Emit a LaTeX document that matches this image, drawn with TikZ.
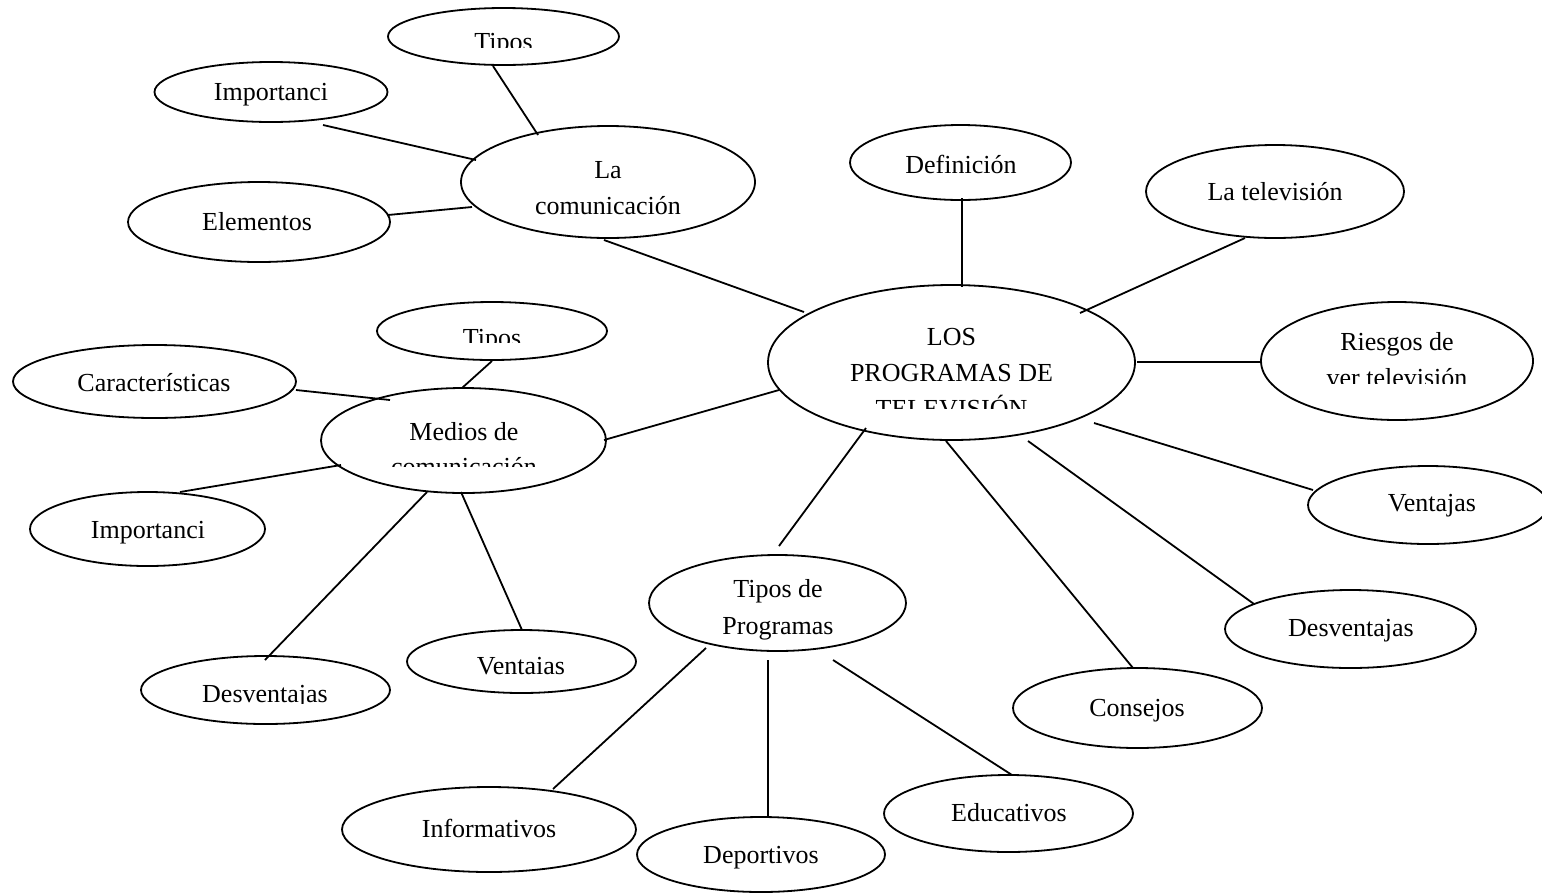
\documentclass[tikz,border=0pt]{standalone}
\usepackage{fontspec}
\setmainfont{Liberation Serif}
\usetikzlibrary{shapes.geometric,calc}
\tikzset{
  bub/.style={draw=black, ellipse, line width=1.8pt, inner sep=0pt},
  lbl/.style={font=\fontsize{26}{36}\selectfont, inner sep=0pt, anchor=base},
  conn/.style={draw=black, line width=1.8pt}
}
\newcommand{\bubble}[5]{\node[bub, minimum width=#4pt, minimum height=#5pt] (#1) at (#2,#3) {};}
\begin{document}
\begin{tikzpicture}[x=1pt,y=-1pt]
\useasboundingbox (0,0) rectangle (1542,895);
% ellipses
\bubble{tipA}{503.5}{36.5}{231}{57}
\bubble{lacom}{608}{182}{294}{112}
\bubble{impA}{271}{92}{233}{60}
\bubble{elem}{259}{222}{262}{80}
\bubble{defi}{960.5}{162.5}{221}{75}
\bubble{latv}{1275}{191.5}{258}{93}
\bubble{main}{951.5}{362.5}{367}{155}
\bubble{ries}{1397}{361}{272}{118}
\bubble{ventR}{1428}{505}{240}{78}
\bubble{desvR}{1350.5}{629}{251}{78}
\bubble{cons}{1137.5}{708}{249}{80}
\bubble{tipP}{777.5}{603}{257}{96}
\bubble{info}{489}{829.5}{294}{85}
\bubble{depo}{761}{854.5}{248}{75}
\bubble{educ}{1008.5}{813.5}{249}{77}
\bubble{medios}{463.5}{440.5}{285}{105}
\bubble{tipB}{492}{331}{230}{58}
\bubble{cara}{154.5}{381.5}{283}{73}
\bubble{impB}{147.5}{529}{235}{74}
\bubble{desvL}{265.5}{690}{249}{68}
\bubble{ventL}{521.5}{661.5}{229}{63}
% labels (some clipped at the bottom as in the reference)
\begin{scope}\clip (380,0) rectangle (630,47);
\node[lbl] (tipA-t) at (503.5,50) {Tipos};\end{scope}
\node[lbl] (impA-t) at (271,100) {Importanci};
\node[lbl] (lacom-t1) at (608,178) {La};
\node[lbl] (lacom-t2) at (608,214) {comunicación};
\node[lbl] (elem-t) at (257,230) {Elementos};
\node[lbl] (defi-t) at (961,173) {Definición};
\node[lbl] (latv-t) at (1275,200) {La televisión};
\node[lbl] (main-t1) at (951.5,345) {LOS};
\node[lbl] (main-t2) at (951.5,381) {PROGRAMAS DE};
\begin{scope}\clip (760,390) rectangle (1140,408);
\node[lbl] (main-t3) at (951.5,417) {TELEVISIÓN};\end{scope}
\node[lbl] (ries-t1) at (1397,350) {Riesgos de};
\begin{scope}\clip (1250,360) rectangle (1542,383);
\node[lbl] (ries-t2) at (1397,386) {ver televisión};\end{scope}
\node[lbl] (ventR-t) at (1432,511) {Ventajas};
\node[lbl] (desvR-t) at (1351,636) {Desventajas};
\node[lbl] (cons-t) at (1137,716) {Consejos};
\node[lbl] (tipP-t1) at (778,597) {Tipos de};
\begin{scope}\clip (640,600) rectangle (920,641);
\node[lbl] (tipP-t2) at (778,634) {Programas};\end{scope}
\node[lbl] (info-t) at (489,837) {Informativos};
\node[lbl] (depo-t) at (761,863) {Deportivos};
\node[lbl] (educ-t) at (1009,821) {Educativos};
\node[lbl] (medios-t1) at (464,440) {Medios de};
\begin{scope}\clip (320,445) rectangle (610,466);
\node[lbl] (medios-t2) at (464,475) {comunicación};\end{scope}
\begin{scope}\clip (370,300) rectangle (620,342);
\node[lbl] (tipB-t) at (492,346) {Tipos};\end{scope}
\node[lbl] (cara-t) at (154,391) {Características};
\node[lbl] (impB-t) at (148,538) {Importanci};
\begin{scope}\clip (130,650) rectangle (400,703);
\node[lbl] (desvL-t) at (265,702) {Desventajas};\end{scope}
\begin{scope}\clip (400,630) rectangle (640,675);
\node[lbl] (ventL-t) at (521,674) {Ventaias};\end{scope}
% connectors
\draw[conn] ($(tipA)+(-10.5,29.5)$) -- ($(lacom)+(-70,-47)$);
\draw[conn] ($(impA)+(52,33)$) -- ($(lacom)+(-132,-22)$);
\draw[conn] ($(elem)+(129,-7)$) -- ($(lacom)+(-136,25)$);
\draw[conn] ($(lacom)+(-4,58)$) -- ($(main)+(-147.5,-50.5)$);
\draw[conn] ($(defi)+(1.5,35.5)$) -- ($(main)+(10.5,-75.5)$);
\draw[conn] ($(latv)+(-30,46.5)$) -- ($(main)+(128.5,-49.5)$);
\draw[conn] ($(main)+(185.5,-0.5)$) -- ($(ries)+(-136,1)$);
\draw[conn] ($(main)+(142.5,60.5)$) -- ($(ventR)+(-115,-15)$);
\draw[conn] ($(main)+(76.5,78.5)$) -- ($(desvR)+(-96.5,-25)$);
\draw[conn] ($(main)+(-5.5,78.5)$) -- ($(cons)+(-4.5,-40)$);
\draw[conn] ($(main)+(-85.5,65.5)$) -- ($(tipP)+(1.5,-57)$);
\draw[conn] ($(main)+(-172.5,27.5)$) -- ($(medios)+(140.5,-0.5)$);
\draw[conn] ($(tipP)+(-71.5,45)$) -- ($(info)+(64,-40.5)$);
\draw[conn] ($(tipP)+(-9.5,57)$) -- ($(depo)+(7,-37.5)$);
\draw[conn] ($(tipP)+(55.5,57)$) -- ($(educ)+(3.5,-38.5)$);
\draw[conn] ($(tipB)+(0,30)$) -- ($(medios)+(-1.5,-52.5)$);
\draw[conn] ($(cara)+(141.5,8.5)$) -- ($(medios)+(-73.5,-40.5)$);
\draw[conn] ($(impB)+(32.5,-37)$) -- ($(medios)+(-122.5,24.5)$);
\draw[conn] ($(medios)+(-36.5,51.5)$) -- ($(desvL)+(-0.5,-30)$);
\draw[conn] ($(medios)+(-2.5,51.5)$) -- ($(ventL)+(0.5,-31.5)$);
\end{tikzpicture}
\end{document}
